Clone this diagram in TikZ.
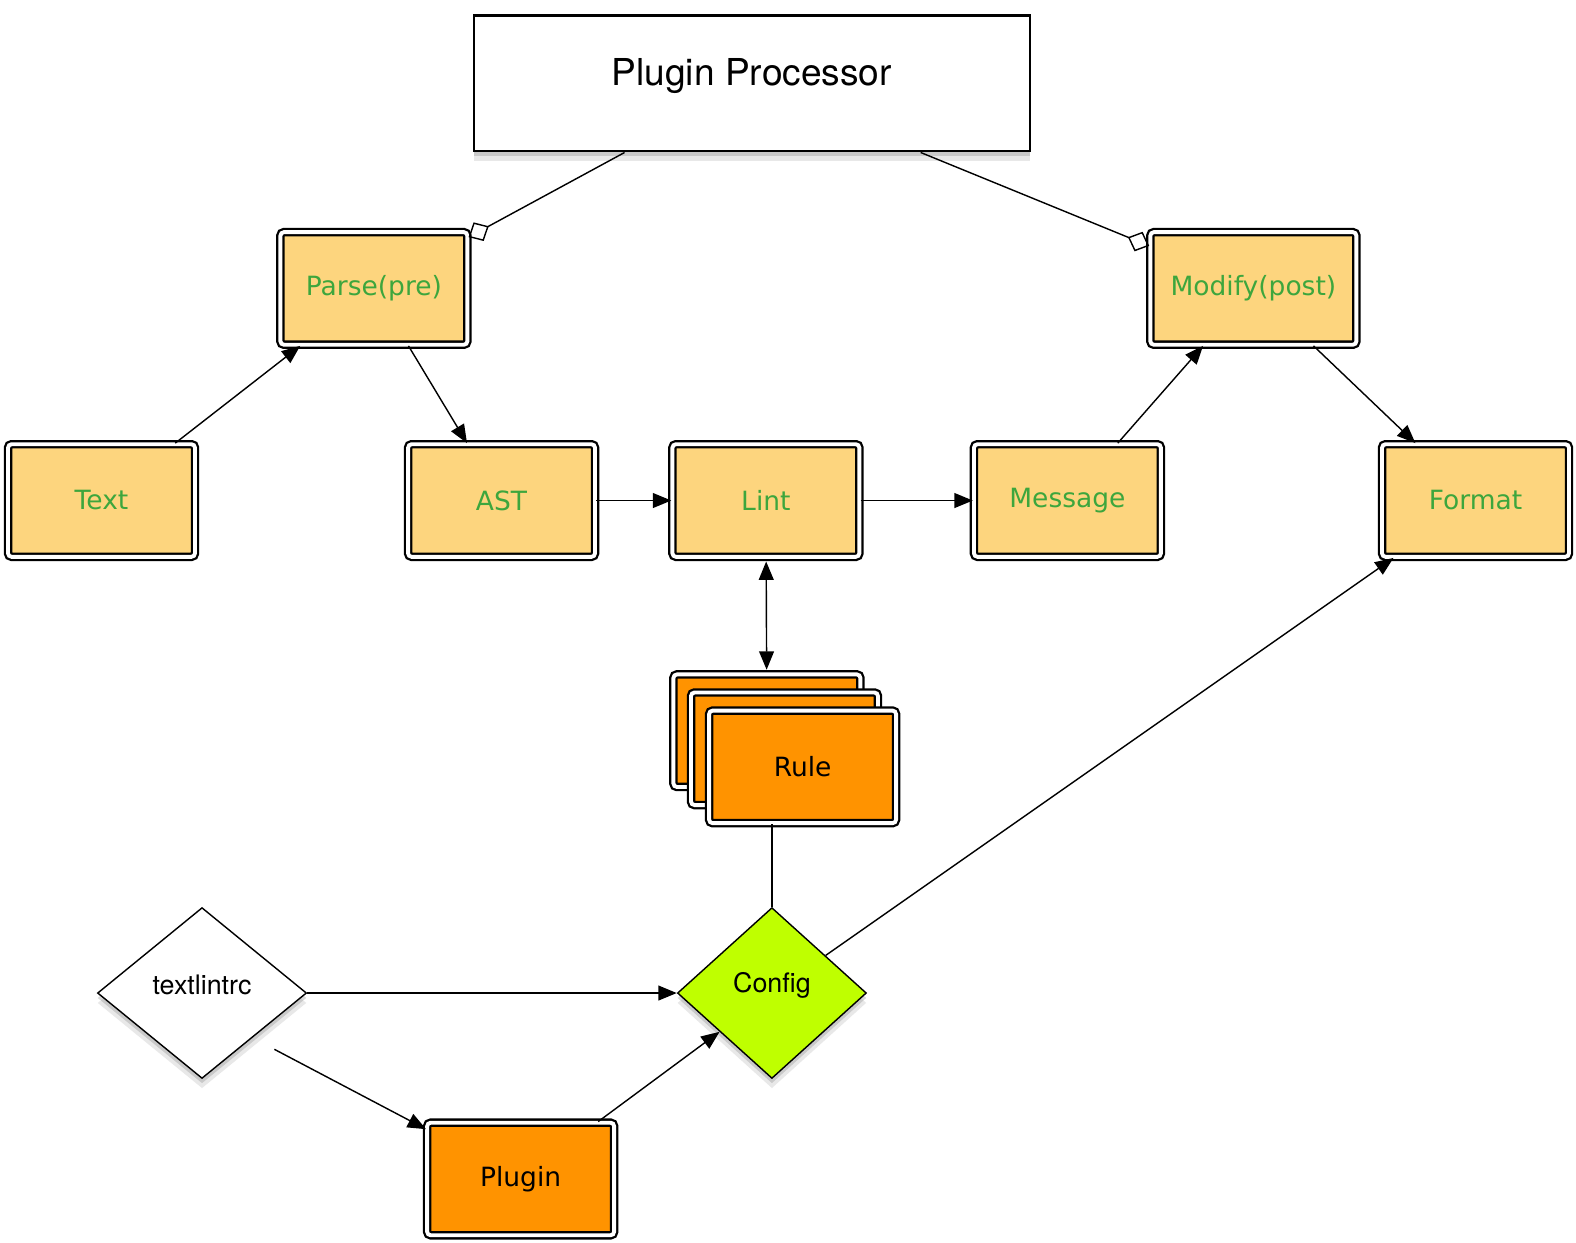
\documentclass[tikz,border=0pt]{standalone}
\usepackage{fontspec}
\setmainfont{DejaVu Sans}
\newfontfamily\helv{TeX Gyre Heros}
\usetikzlibrary{arrows.meta,calc,shapes.geometric,shadows}
\definecolor{sand}{HTML}{FDD57E}
\definecolor{leaf}{HTML}{3DA63D}
\definecolor{amber}{HTML}{FF9300}
\definecolor{cfglime}{HTML}{BFFF00}
\newcommand\lift[1]{\raisebox{2.2pt}[\height][\depth]{#1}}
\tikzset{>={Triangle[length=5.2pt,width=4.2pt]},line width=.55pt,
  every node/.style={font=\fontsize{7.5}{9}\selectfont},
  card/.style={draw,line width=.65pt,double=white,double distance=1.1pt,rounded corners=1pt,
    minimum width=1.86cm,minimum height=1.12cm,inner sep=0pt},
  stage/.style={card,fill=sand,text=leaf},
  unit/.style={card,fill=amber},
  soft/.style={drop shadow={shadow xshift=0pt,shadow yshift=-1.4pt,opacity=.3},
    drop shadow={shadow xshift=0pt,shadow yshift=-2.8pt,opacity=.18}},
  gem/.style={diamond,draw,soft,inner sep=0pt,font=\helv\fontsize{7.6}{9}\selectfont},
  headbox/.style={draw,fill=white,soft,line width=.7pt,minimum width=5.53cm,
    minimum height=1.35cm,font=\helv\fontsize{10.5}{12}\selectfont},
  link/.style={->},
  hook/.style={-{Diamond[open,length=6.5pt,width=6pt]}}}

\begin{document}
\begin{tikzpicture}[x=1cm,y=1cm]
\useasboundingbox (0,0) rectangle (15.68,12.36);
\node[headbox] (proc) at (7.48,11.53) {\lift{Plugin Processor}};
\node[stage] (parse) at (3.72,9.49) {Parse(pre)};
\node[stage,minimum width=2.05cm] (modify) at (12.47,9.49) {Modify(post)};
\node[stage] (text) at (1.01,7.38) {Text};
\node[stage] (ast) at (4.99,7.38) {AST};
\node[stage] (lint) at (7.62,7.38) {Lint};
\node[stage] (msg) at (10.62,7.38) {Message};
\node[stage] (fmt) at (14.68,7.38) {Format};
% stacked rule cards
\foreach \k/\x/\y in {ruleA/7.63/5.09,ruleB/7.805/4.91} {\node[unit] (\k) at (\x,\y) {};}
\node[unit] (ruleC) at (7.985,4.73) {Rule};
\node[gem,fill=white,minimum width=2.08cm,minimum height=1.70cm] (rc) at (2.01,2.48) {\lift{textlintrc}};
\node[gem,fill=cfglime,minimum width=1.88cm,minimum height=1.70cm] (cfg) at (7.68,2.48) {\lift{Config}};
\node[unit] (plugin) at (5.18,0.63) {Plugin};
\coordinate (rcout) at ($(rc)+(.72,-.56)$);
% connectors
\draw[hook] (proc) -- (parse);
\draw[hook] (proc) -- (modify);
\draw[link] (text) -- (parse);
\draw[link] (parse) -- (ast);
\draw[link] (ast) -- (lint);
\draw[link] (lint) -- (msg);
\draw[link] (msg) -- (modify);
\draw[link] (modify) -- (fmt);
\draw[<->,shorten <=1pt,shorten >=1pt] (lint) -- (ruleA);
\draw (ruleC.south -| cfg.north) -- (cfg.north);
\draw[link] (cfg) -- (fmt);
\draw[link] (rc) -- (cfg);
\draw[link] (rcout) -- (plugin);
\draw[link] (plugin) -- (cfg);
\end{tikzpicture}
\end{document}
